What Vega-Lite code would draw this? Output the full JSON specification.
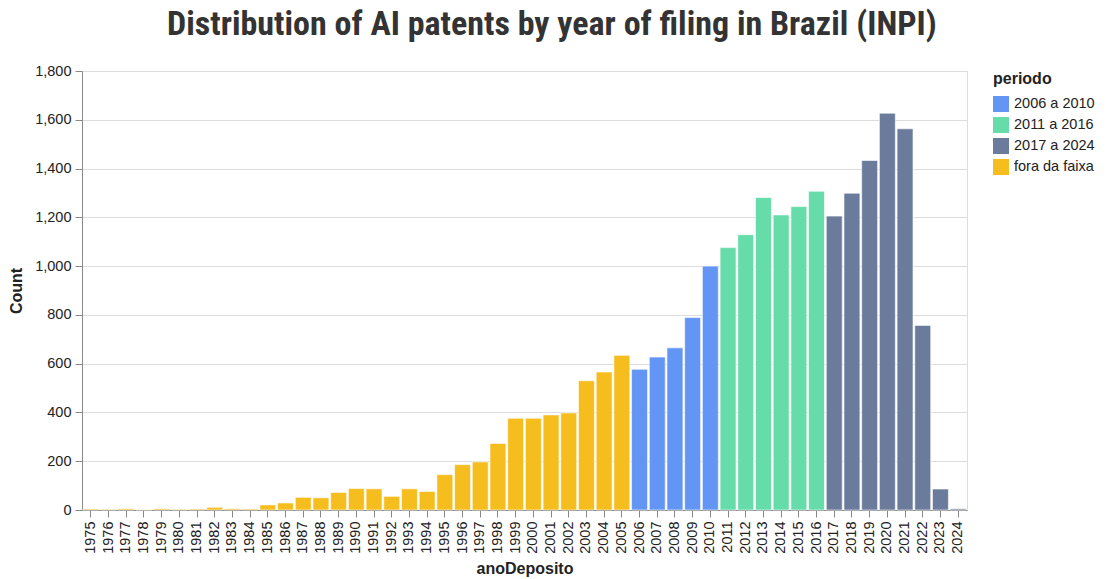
{
  "$schema": "https://vega.github.io/schema/vega-lite/v6.json",
  "width": 885,
  "height": 439,
  "padding": {"left": 8, "top": 8, "right": 5, "bottom": 2},
  "title": {
    "text": "Distribution of AI patents by year of filing in Brazil (INPI)",
    "font": "Liberation Sans Narrow, Roboto Condensed, DejaVu Sans Condensed, sans-serif",
    "fontSize": 34,
    "fontWeight": "bold",
    "color": "#333333",
    "anchor": "middle",
    "frame": "bounds",
    "offset": 21
  },
  "data": {
    "values": [
      {"anoDeposito": "1975", "count": 4, "periodo": "fora da faixa"},
      {"anoDeposito": "1976", "count": 3, "periodo": "fora da faixa"},
      {"anoDeposito": "1977", "count": 5, "periodo": "fora da faixa"},
      {"anoDeposito": "1978", "count": 1, "periodo": "fora da faixa"},
      {"anoDeposito": "1979", "count": 5, "periodo": "fora da faixa"},
      {"anoDeposito": "1980", "count": 3, "periodo": "fora da faixa"},
      {"anoDeposito": "1981", "count": 4, "periodo": "fora da faixa"},
      {"anoDeposito": "1982", "count": 11, "periodo": "fora da faixa"},
      {"anoDeposito": "1983", "count": 5, "periodo": "fora da faixa"},
      {"anoDeposito": "1984", "count": 4, "periodo": "fora da faixa"},
      {"anoDeposito": "1985", "count": 21, "periodo": "fora da faixa"},
      {"anoDeposito": "1986", "count": 29, "periodo": "fora da faixa"},
      {"anoDeposito": "1987", "count": 52, "periodo": "fora da faixa"},
      {"anoDeposito": "1988", "count": 50, "periodo": "fora da faixa"},
      {"anoDeposito": "1989", "count": 72, "periodo": "fora da faixa"},
      {"anoDeposito": "1990", "count": 88, "periodo": "fora da faixa"},
      {"anoDeposito": "1991", "count": 87, "periodo": "fora da faixa"},
      {"anoDeposito": "1992", "count": 56, "periodo": "fora da faixa"},
      {"anoDeposito": "1993", "count": 87, "periodo": "fora da faixa"},
      {"anoDeposito": "1994", "count": 76, "periodo": "fora da faixa"},
      {"anoDeposito": "1995", "count": 145, "periodo": "fora da faixa"},
      {"anoDeposito": "1996", "count": 186, "periodo": "fora da faixa"},
      {"anoDeposito": "1997", "count": 197, "periodo": "fora da faixa"},
      {"anoDeposito": "1998", "count": 273, "periodo": "fora da faixa"},
      {"anoDeposito": "1999", "count": 376, "periodo": "fora da faixa"},
      {"anoDeposito": "2000", "count": 376, "periodo": "fora da faixa"},
      {"anoDeposito": "2001", "count": 390, "periodo": "fora da faixa"},
      {"anoDeposito": "2002", "count": 398, "periodo": "fora da faixa"},
      {"anoDeposito": "2003", "count": 530, "periodo": "fora da faixa"},
      {"anoDeposito": "2004", "count": 566, "periodo": "fora da faixa"},
      {"anoDeposito": "2005", "count": 634, "periodo": "fora da faixa"},
      {"anoDeposito": "2006", "count": 577, "periodo": "2006 a 2010"},
      {"anoDeposito": "2007", "count": 627, "periodo": "2006 a 2010"},
      {"anoDeposito": "2008", "count": 665, "periodo": "2006 a 2010"},
      {"anoDeposito": "2009", "count": 789, "periodo": "2006 a 2010"},
      {"anoDeposito": "2010", "count": 1000, "periodo": "2006 a 2010"},
      {"anoDeposito": "2011", "count": 1076, "periodo": "2011 a 2016"},
      {"anoDeposito": "2012", "count": 1129, "periodo": "2011 a 2016"},
      {"anoDeposito": "2013", "count": 1281, "periodo": "2011 a 2016"},
      {"anoDeposito": "2014", "count": 1210, "periodo": "2011 a 2016"},
      {"anoDeposito": "2015", "count": 1244, "periodo": "2011 a 2016"},
      {"anoDeposito": "2016", "count": 1307, "periodo": "2011 a 2016"},
      {"anoDeposito": "2017", "count": 1205, "periodo": "2017 a 2024"},
      {"anoDeposito": "2018", "count": 1299, "periodo": "2017 a 2024"},
      {"anoDeposito": "2019", "count": 1433, "periodo": "2017 a 2024"},
      {"anoDeposito": "2020", "count": 1627, "periodo": "2017 a 2024"},
      {"anoDeposito": "2021", "count": 1563, "periodo": "2017 a 2024"},
      {"anoDeposito": "2022", "count": 757, "periodo": "2017 a 2024"},
      {"anoDeposito": "2023", "count": 86, "periodo": "2017 a 2024"},
      {"anoDeposito": "2024", "count": 5, "periodo": "2017 a 2024"}
    ]
  },
  "mark": {"type": "bar", "stroke": "white", "strokeWidth": 1, "strokeOpacity": 0.6},
  "encoding": {
    "x": {
      "field": "anoDeposito",
      "type": "ordinal",
      "title": "anoDeposito",
      "axis": {
        "labelAngle": -90,
        "labelFontSize": 14.5,
        "labelColor": "#222222",
        "labelPadding": 4,
        "tickSize": 7,
        "titleFontSize": 16,
        "titleColor": "#222222",
        "titlePadding": 7
      }
    },
    "y": {
      "field": "count",
      "type": "quantitative",
      "title": "Count",
      "scale": {"domain": [0, 1800]},
      "axis": {
        "labelFontSize": 14.5,
        "labelColor": "#222222",
        "labelPadding": 4,
        "tickSize": 7,
        "titleFontSize": 16,
        "titleColor": "#222222",
        "tickCount": 9,
        "titlePadding": 10
      }
    },
    "color": {
      "field": "periodo",
      "type": "nominal",
      "title": "periodo",
      "scale": {
        "domain": ["2006 a 2010", "2011 a 2016", "2017 a 2024", "fora da faixa"],
        "range": ["#6395f5", "#66dcaa", "#6a7b9b", "#f5be1e"]
      },
      "legend": {
        "titleFontSize": 16,
        "labelFontSize": 14.5,
        "titleColor": "#222222",
        "labelColor": "#222222",
        "titlePadding": 9,
        "symbolType": "square",
        "symbolSize": 256,
        "symbolStrokeWidth": 0,
        "labelOffset": 5,
        "rowPadding": 5,
        "offset": 26
      }
    }
  },
  "config": {
    "font": "Liberation Sans, Arial, sans-serif",
    "view": {"stroke": "#dddddd"}
  }
}
